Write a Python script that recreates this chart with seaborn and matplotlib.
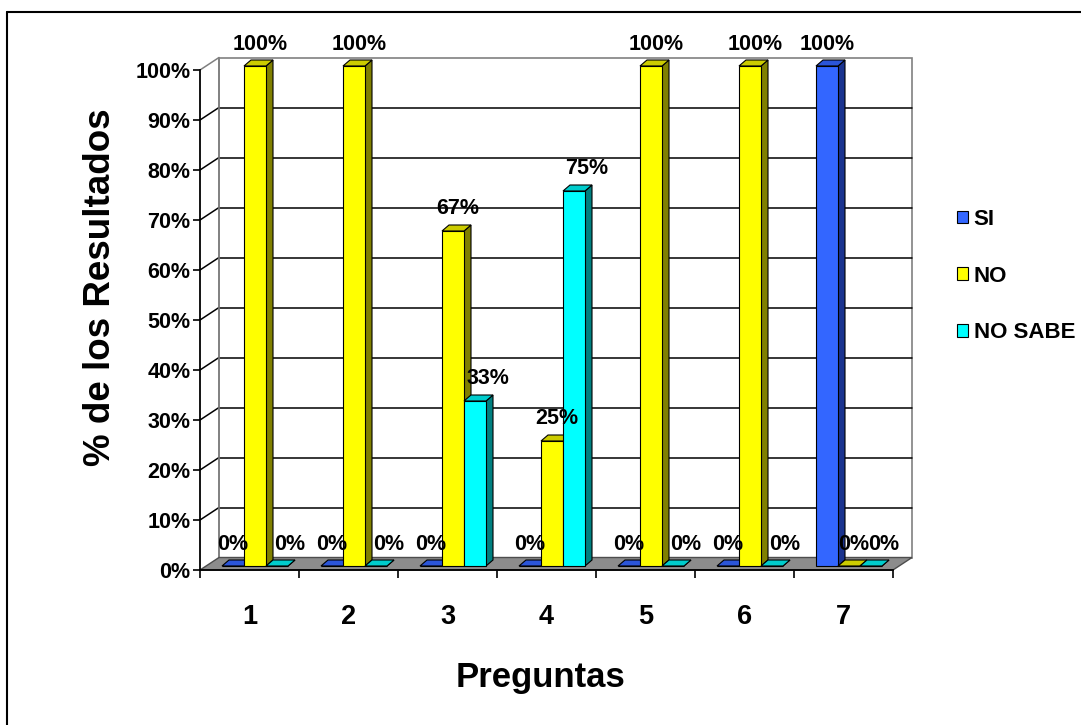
import matplotlib
matplotlib.use("Agg")
import matplotlib.pyplot as plt
import matplotlib.transforms as mtransforms
from matplotlib.patches import Polygon, Patch
from matplotlib.lines import Line2D
import seaborn as sns
import pandas as pd

# ---- data ----
preguntas = ["1", "2", "3", "4", "5", "6", "7"]
series = ["SI", "NO", "NO SABE"]
si = [0, 0, 0, 0, 0, 0, 100]
no = [100, 100, 67, 25, 100, 100, 0]
no_sabe = [0, 0, 33, 75, 0, 0, 0]
y_ticks = list(range(0, 101, 10))
y_tick_labels = [f"{t}%" for t in y_ticks]

# ---- colours for the three faces of each 3D column ----
front_colors = ["#3366FF", "#FFFF00", "#00FFFF"]
top_colors = ["#2B55D9", "#CCCC00", "#00CCCC"]
side_colors = ["#1A338F", "#808000", "#008080"]

values = [si, no, no_sabe]
df = pd.DataFrame({
    "Pregunta": preguntas * len(series),
    "Serie": [s for s in series for _ in preguntas],
    "Valor": si + no + no_sabe,
})

sns.set_style("white")
plt.rcParams["font.family"] = ["Liberation Sans", "DejaVu Sans"]
plt.rcParams["font.weight"] = "bold"
plt.rcParams["axes.labelweight"] = "bold"
for key in ["text.color", "axes.labelcolor", "xtick.color", "ytick.color"]:
    plt.rcParams[key] = "black"

W, H = 1081, 725
fig = plt.figure(figsize=(W / 100, H / 100), dpi=100)
ax = fig.add_axes([200 / W, 1 - 570 / H, 693 / W, 500 / H])
ax.patch.set_visible(False)

sns.barplot(data=df, x="Pregunta", y="Valor", hue="Serie", order=preguntas,
            hue_order=series, palette=front_colors, saturation=1, width=2 / 3,
            edgecolor="black", linewidth=0.8, errorbar=None, legend=False, ax=ax)
ax.set_xlim(-0.5, len(preguntas) - 0.5)
ax.set_ylim(0, 100)

# pixel -> data unit conversion for the pseudo-3D geometry
p0 = ax.transData.transform((0, 0))
p1 = ax.transData.transform((1, 100))
ux = p1[0] - p0[0]
uy = (p1[1] - p0[1]) / 100.0

# wall depth (front frame -> back wall) and column depth
bx, by = 19 / ux, 12.5 / uy
dxd, dyd = 7 / ux, 6 / uy
# columns sit a little behind the front frame
bar_plane = mtransforms.offset_copy(ax.transData, fig=fig, x=5.5, y=4, units="dots")

x_lo, x_hi = -0.5, len(preguntas) - 0.5

# back wall
ax.add_patch(Polygon([(x_lo + bx, by), (x_hi + bx, by), (x_hi + bx, 100 + by), (x_lo + bx, 100 + by)],
                     closed=True, facecolor="white", edgecolor="#808080", lw=1.2,
                     zorder=0.5, clip_on=False))
# gridlines on back wall and left side wall
for t in y_ticks[1:]:
    col = "#808080" if t == 100 else "black"
    if t < 100:
        ax.plot([x_lo + bx, x_hi + bx], [t + by, t + by], color="black", lw=1.1,
                zorder=0.6, clip_on=False)
    ax.plot([x_lo, x_lo + bx], [t, t + by], color=col, lw=1.1, zorder=0.6, clip_on=False)
ax.plot([x_lo + bx, x_lo + bx], [by, 100 + by], color="#808080", lw=1.2, zorder=0.6, clip_on=False)

# floor
ax.add_patch(Polygon([(x_lo, 0), (x_hi, 0), (x_hi + bx, by), (x_lo + bx, by)], closed=True,
                     facecolor="#8c8c8c", edgecolor="#4d4d4d", lw=1.0, zorder=0.7,
                     clip_on=False))

# 3D faces for every column plus the value labels
label_dx = [0, 5, 13]
for j, cont in enumerate(ax.containers):
    for k, rect in enumerate(cont):
        z = 2 + j * 0.1
        x0, w, h = rect.get_x(), rect.get_width(), rect.get_height()
        rect.set_transform(bar_plane)
        rect.set_zorder(z + 0.05)
        rect.set_clip_on(False)
        side = Polygon([(x0 + w, 0), (x0 + w + dxd, dyd), (x0 + w + dxd, h + dyd), (x0 + w, h)],
                       closed=True, facecolor=side_colors[j], edgecolor="black", lw=0.8,
                       transform=bar_plane, zorder=z, clip_on=False)
        top = Polygon([(x0, h), (x0 + w, h), (x0 + w + dxd, h + dyd), (x0 + dxd, h + dyd)],
                      closed=True, facecolor=top_colors[j], edgecolor="black", lw=0.8,
                      transform=bar_plane, zorder=z + 0.02, clip_on=False)
        ax.add_patch(side)
        ax.add_patch(top)
        v = values[j][k]
        ax.annotate(f"{v}%", xy=(x0 + w / 2, v), xycoords=bar_plane,
                    xytext=(label_dx[j] * 0.72, 22 * 0.72), textcoords="offset points",
                    ha="center", va="center", fontsize=15.5, fontweight="bold",
                    color="black", zorder=6, annotation_clip=False)

# axes frame
for s in ["top", "right"]:
    ax.spines[s].set_visible(False)
for s in ["left", "bottom"]:
    ax.spines[s].set_color("black")
    ax.spines[s].set_linewidth(1.3)
    ax.spines[s].set_zorder(3)

ax.set_yticks(y_ticks)
ax.set_yticklabels(y_tick_labels)
ax.tick_params(axis="y", direction="out", length=5, width=1.2, pad=2,
               labelsize=15.5, color="black", labelcolor="black", left=True)

ax.set_xticks([k - 0.5 for k in range(len(preguntas) + 1)])
ax.set_xticklabels([])
ax.set_xticks(range(len(preguntas)), minor=True)
ax.set_xticklabels(preguntas, minor=True)
ax.tick_params(axis="x", which="major", direction="out", length=6, width=1.2,
               color="black", bottom=True)
ax.tick_params(axis="x", which="minor", length=0, pad=24.5, labelsize=19.5,
               labelcolor="black")

ax.set_ylabel("% de los Resultados", fontsize=26.5, fontweight="bold", color="black")
ax.yaxis.set_label_coords((100 - 200) / 693, (570 - 287) / 500)
ax.yaxis.label.set_va("center")
ax.set_xlabel("Preguntas", fontsize=25, fontweight="bold", color="black")
ax.xaxis.set_label_coords((540 - 200) / 693, (570 - 677) / 500)
ax.xaxis.label.set_va("center")

# legend
handles = [Patch(facecolor=c, edgecolor="black", lw=0.8) for c in front_colors]
leg = fig.legend(handles=handles, labels=series, loc="upper left",
                 bbox_to_anchor=(957 / W, 1 - 209 / H), frameon=False,
                 prop={"size": 16, "weight": "bold"}, handlelength=0.5, handleheight=0.5,
                 handletextpad=0.25, labelspacing=1.6, borderpad=0, borderaxespad=0)
for txt in leg.get_texts():
    txt.set_color("black")

# chart border
fig.add_artist(Line2D([7 / W, 7 / W], [0, 1 - 12 / H], color="black", lw=1.5,
                      transform=fig.transFigure))
fig.add_artist(Line2D([7 / W, 1], [1 - 12 / H, 1 - 12 / H], color="black", lw=1.5,
                      transform=fig.transFigure))

fig.savefig("out.png", dpi=100)
